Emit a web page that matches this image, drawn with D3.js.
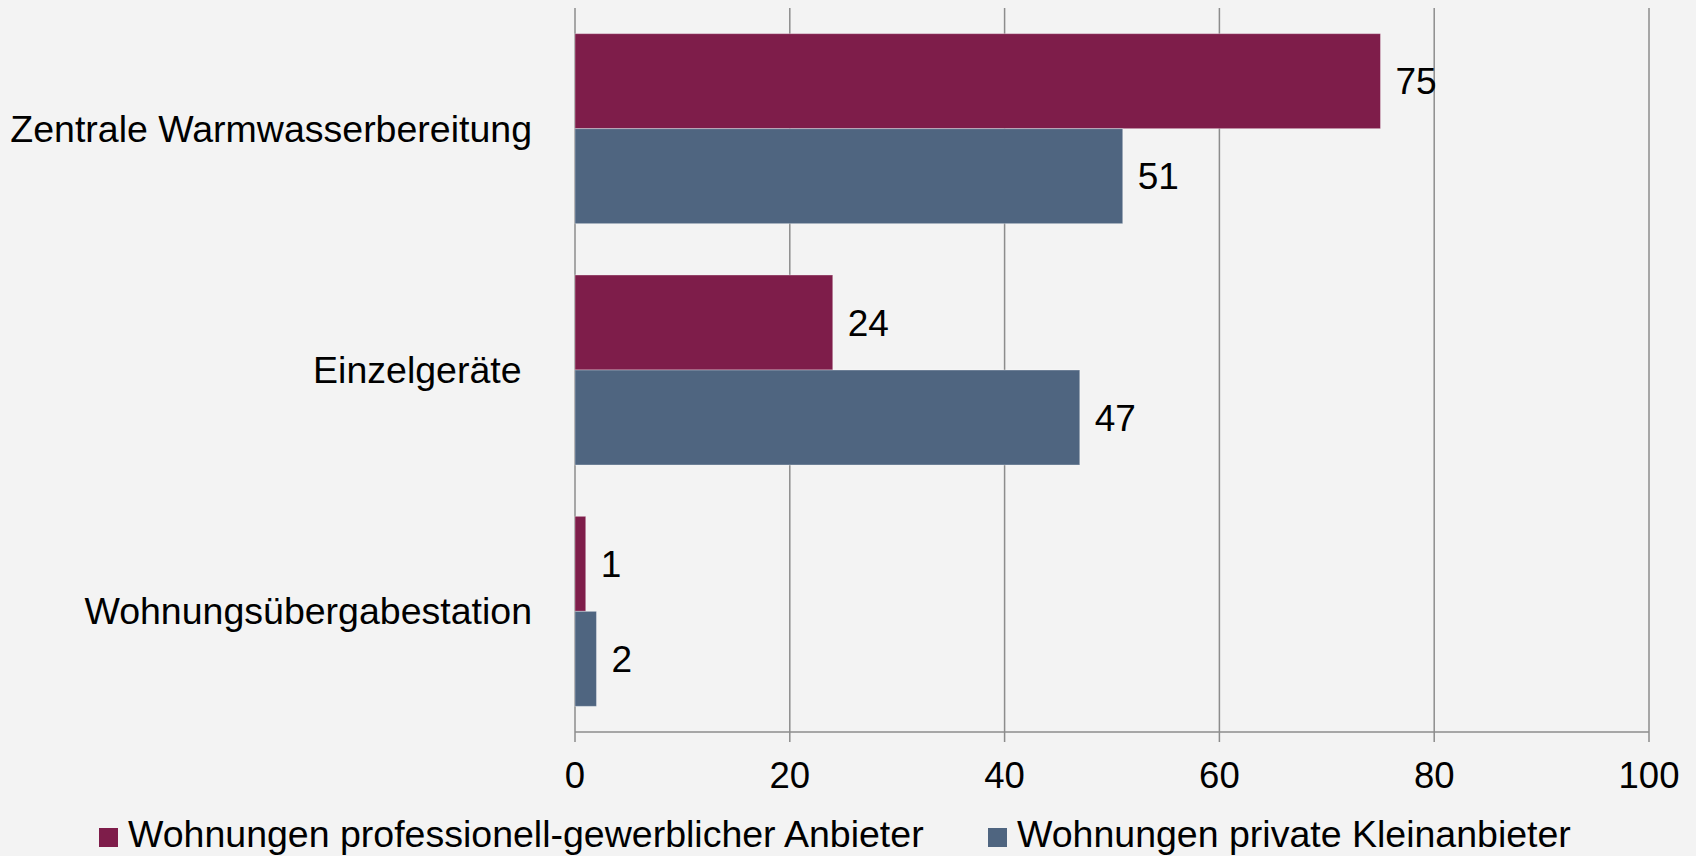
<!DOCTYPE html>
<html lang="de">
<head>
<meta charset="UTF-8">
<title>Warmwasserbereitung</title>
<script src="https://d3js.org/d3.v7.min.js"></script>
<style>
    body { margin: 0; background: #f3f3f3; }
    svg { display: block; }
    text { font-family: "Liberation Sans", Arial, sans-serif; fill: #000; }
    .grid line { stroke: #8c8c8c; stroke-width: 1.5px; }
</style>
</head>
<body>
<script>
// data
const categories = ["Zentrale Warmwasserbereitung", "Einzelgeräte ", "Wohnungsübergabestation"]
const series = ["Wohnungen professionell-gewerblicher Anbieter", "Wohnungen private Kleinanbieter"]
const professionell = [75, 24, 1]
const privat = [51, 47, 2]
const xTicks = [0, 20, 40, 60, 80, 100]
const colors = ["#7e1d4a", "#4f6580"]

const W = 1696, H = 856
const PLOT = {LEFT: 575, RIGHT: 1649, TOP: 8, BOTTOM: 732}

const svg = d3.select("body").append("svg")
    .attr("width", W)
    .attr("height", H)

svg.append("rect").attr("width", W).attr("height", H).attr("fill", "#f3f3f3")

const x = d3.scaleLinear().domain([0, 100]).range([PLOT.LEFT, PLOT.RIGHT])
const y = d3.scaleBand().domain(categories).range([PLOT.TOP, PLOT.BOTTOM])
const ySub = d3.scaleBand().domain(series).range([0, y.bandwidth()]).paddingInner(0).paddingOuter(0.27)

const rows = categories.map((c, i) => ({cat: c, values: [professionell[i], privat[i]]}))

// gridlines
const grid = svg.append("g").attr("class", "grid")
grid.selectAll("line.v")
    .data(xTicks)
    .enter().append("line")
    .attr("class", "v")
    .attr("x1", d => x(d)).attr("x2", d => x(d))
    .attr("y1", PLOT.TOP).attr("y2", PLOT.BOTTOM + 10)
grid.append("line")
    .attr("x1", PLOT.LEFT).attr("x2", PLOT.RIGHT)
    .attr("y1", PLOT.BOTTOM).attr("y2", PLOT.BOTTOM)

// bars
const groups = svg.selectAll(".cat")
    .data(rows)
    .enter().append("g")
    .attr("class", "cat")
    .attr("transform", d => `translate(0, ${y(d.cat)})`)

groups.selectAll("rect")
    .data(d => d.values.map((v, j) => ({s: series[j], v: v, j: j})))
    .enter().append("rect")
    .attr("x", x(0))
    .attr("y", d => ySub(d.s))
    .attr("width", d => x(d.v) - x(0))
    .attr("height", ySub.bandwidth())
    .attr("fill", d => colors[d.j])
    .attr("stroke", "rgba(255,255,255,0.35)")
    .attr("stroke-width", 1)

groups.selectAll("text.val")
    .data(d => d.values.map((v, j) => ({s: series[j], v: v})))
    .enter().append("text")
    .attr("class", "val")
    .attr("x", d => x(d.v) + 15)
    .attr("y", d => ySub(d.s) + ySub.bandwidth() / 2)
    .attr("dy", "0.36em")
    .style("font-size", "37px")
    .text(d => d.v)

// category axis labels
svg.selectAll("text.cat")
    .data(categories)
    .enter().append("text")
    .attr("class", "cat")
    .attr("x", 532)
    .attr("y", d => y(d) + y.bandwidth() / 2)
    .attr("dy", "0.35em")
    .attr("text-anchor", "end")
    .style("font-size", "37.5px")
    .style("white-space", "pre")
    .text(d => d)

// x tick labels
svg.selectAll("text.tick")
    .data(xTicks)
    .enter().append("text")
    .attr("class", "tick")
    .attr("x", d => x(d))
    .attr("y", 788)
    .attr("text-anchor", "middle")
    .style("font-size", "36.5px")
    .text(d => d)

// legend
const legendX = [99, 988]
const legend = svg.append("g")
series.forEach((s, i) => {
    const item = legend.append("g").attr("transform", `translate(${legendX[i]}, 828)`)
    item.append("rect")
        .attr("width", 19).attr("height", 19)
        .attr("fill", colors[i])
    item.append("text")
        .attr("x", 29)
        .attr("y", 19)
        .style("font-size", "37.5px")
        .text(s)
})
</script>
</body>
</html>
